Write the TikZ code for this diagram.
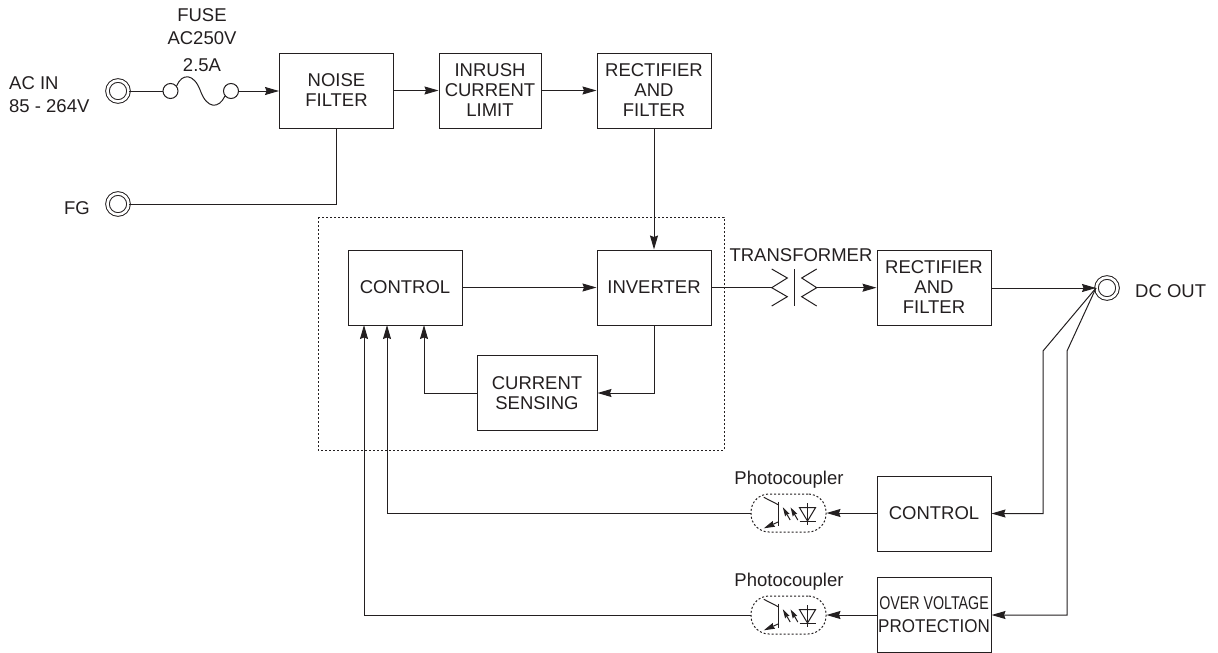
\documentclass[tikz,border=0pt]{standalone}
\usepackage{fontspec}
\usepackage{graphicx}
\setmainfont{Liberation Sans}
\usetikzlibrary{arrows.meta}
\definecolor{inkcolor}{HTML}{231F20}
\tikzset{
    every node/.style={font=\fontsize{18.5}{20}\selectfont,text=inkcolor},
    wire/.style={draw=inkcolor,line width=1pt},
    feed/.style={wire,-{Stealth[length=14pt,width=8pt,inset=1.5pt]}},
    block/.style={draw=inkcolor,line width=1pt,minimum width=114pt,minimum height=75pt,inner sep=0pt,align=center},
    terminal/.style={circle,draw=inkcolor,double,double distance=2.6pt,line width=1pt,minimum size=21pt,inner sep=0pt},
    fuseend/.style={circle,draw=inkcolor,line width=1pt,minimum size=15pt,inner sep=0pt},
    dots/.style={draw=inkcolor,dash pattern=on 2pt off 2pt,line width=1pt},
    coupler/.style={dots,rounded corners=18pt,minimum width=75pt,minimum height=38pt,inner sep=0pt},
    label/.style={inner sep=0pt},
    couplerinside/.pic={
        % transistor
        \draw[wire] (-9.7,-11.3) -- (-9.7,12.7);
        \draw[wire] (-24.7,-15.7) -- (-9.7,-8);
        \draw[wire,-{Stealth[length=11pt,width=6pt,inset=1pt]}] (-9.7,8.7) -- (-24.7,15.3);
        % light
        \draw[wire,-{Stealth[length=9pt,width=5pt,inset=1pt]}] (1.7,7) -- (-5.7,-5.7);
        \draw[wire,-{Stealth[length=9pt,width=5pt,inset=1pt]}] (9.3,7) -- (2,-5.7);
        % diode
        \draw[wire] (11,-5.3) -- (27,-5.3) -- (19,8) -- cycle;
        \draw[wire] (11,8) -- (27,8);
        \draw[wire] (19,-10) -- (19,12);
    }
}

\begin{document}
\begin{tikzpicture}[x=1pt,y=-1pt]
    \useasboundingbox (0,0) rectangle (1218,653);

  % Dotted frame
    \draw[dots] (318,217) rectangle (724,450);

  % Blocks
    \node[block] (noise) at (336.5,90.5) {NOISE\\FILTER};
    \node[block,minimum width=102pt] (inrush) at (490,90.5) {INRUSH\\CURRENT\\LIMIT};
    \node[block] (rectin) at (654,90.5) {RECTIFIER\\AND\\FILTER};
    \node[block] (ctrlin) at (405,287.5) {CONTROL};
    \node[block] (inverter) at (654,287.5) {INVERTER};
    \node[block,minimum width=120pt] (sensing) at (537,393) {CURRENT\\SENSING};
    \node[block] (rectout) at (934,287.5) {RECTIFIER\\AND\\FILTER};
    \node[block] (ctrlout) at (934,513.5) {CONTROL};
    \node[block] (ovp) at (934,614.5) {\scalebox{.77}[1]{OVER VOLTAGE}\\[3pt]\scalebox{.92}[1]{PROTECTION}};

  % Terminals
    \node[terminal] (acin) at (118,91) {};
    \node[terminal] (fg) at (118,204) {};
    \node[terminal] (dcout) at (1107,288) {};
    \node[label,anchor=west,align=left] (aclabel) at (9,94.5) {AC IN\\[3pt]85 - 264V};
    \node[label,anchor=east] (fglabel) at (90,208) {FG};
    \node[label,anchor=west] (dclabel) at (1135,291) {DC OUT};

  % Fuse
    \node[fuseend] (fusea) at (170.5,91) {};
    \node[fuseend] (fuseb) at (231,91) {};
    \node[label] (fusetext) at (202,15) {FUSE};
    \node[label] (fuseamp) at (202,38) {AC250V};
    \node[label] (fuserate) at (202,65) {2.5A};
    \draw[wire] (fusea.40) .. controls (182,73) and (194,73) .. (200.5,91)
        .. controls (207,109) and (219,109) .. (fuseb.220);

  % Transformer
    \coordinate (tleft) at (771.7,287.7);
    \coordinate (tright) at (816.7,287.7);
    \node[label] (ttext) at (801,255) {TRANSFORMER};
    \draw[wire] (771.7,269) -- (787.3,278) -- (tleft) -- (787.3,296.7) -- (771.7,306);
    \draw[wire] (794,269) -- (794,306);
    \draw[wire] (816.7,269) -- (801.7,278) -- (tright) -- (801.7,296.7) -- (816.7,306);

  % Photocouplers
    \node[coupler] (pca) at (788.5,513) {};
    \node[coupler] (pcb) at (788.5,615) {};
    \pic at (pca) {couplerinside};
    \pic at (pcb) {couplerinside};
    \node[label] (pcatext) at (789,480) {Photocoupler};
    \node[label] (pcbtext) at (789,582) {Photocoupler};

  % Input side
    \draw[wire] (acin) -- (fusea);
    \draw[feed] (fuseb) -- (noise.west |- fuseb);
    \draw[feed] (noise) -- (inrush);
    \draw[feed] (inrush) -- (rectin);
    \draw[feed] (rectin) -- (inverter);
    \draw[wire] (noise.south) |- (fg);

  % Primary loop
    \draw[feed] (ctrlin) -- (inverter);
    \draw[feed] (inverter.south) |- (sensing.east);
    \draw[feed] (sensing.west) -| (424,325);
    \draw[wire] (inverter.east |- tleft) -- (tleft);
    \draw[feed] (tright) -- (rectout.west |- tright);
    \draw[feed] (rectout.east |- dcout) -- (dcout.west);

  % Feedback
    \coordinate (benda) at (1043,351);
    \coordinate (bendb) at (1067,351);
    \draw[feed] (dcout.west) -- (benda) |- (ctrlout.east);
    \draw[feed] (dcout.west) -- (bendb) |- (ovp.east |- pcb);
    \draw[feed] (ctrlout.west |- pca) -- (pca);
    \draw[feed] (ovp.west |- pcb) -- (pcb);
    \draw[feed] (pca) -| (387,325);
    \draw[feed] (pcb) -| (364,325);
\end{tikzpicture}
\end{document}
